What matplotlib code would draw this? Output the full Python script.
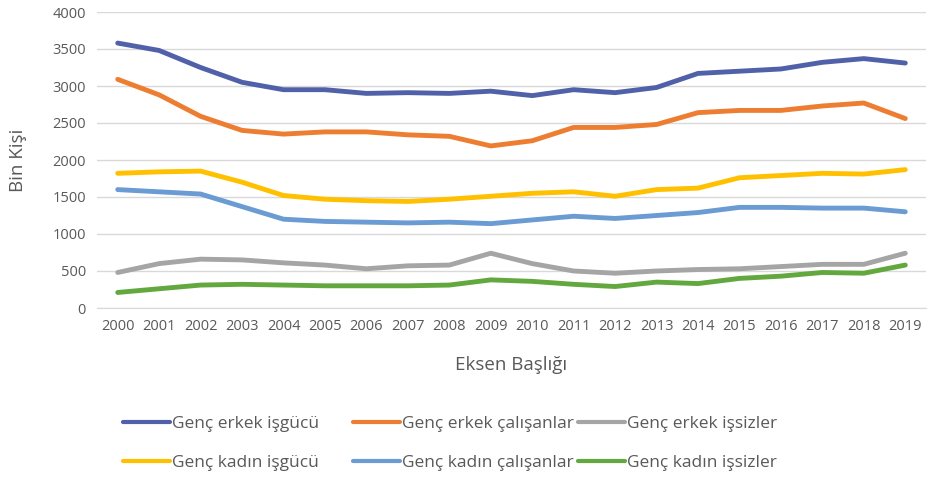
import numpy as np
import matplotlib.pyplot as plt

plt.rcParams['font.family'] = ['Open Sans', 'DejaVu Sans']

years = [str(y) for y in range(2000, 2020)]

erkek_isgucu = [3580, 3480, 3250, 3050, 2950, 2950, 2900, 2910, 2900, 2930,
                2870, 2950, 2910, 2980, 3170, 3200, 3230, 3320, 3370, 3310]
erkek_calisan = [3090, 2880, 2590, 2400, 2350, 2380, 2380, 2340, 2320, 2190,
                 2260, 2440, 2440, 2480, 2640, 2670, 2670, 2730, 2770, 2560]
erkek_issiz = [480, 600, 660, 650, 610, 580, 530, 570, 580, 740,
               600, 500, 470, 500, 520, 530, 560, 590, 590, 740]
kadin_isgucu = [1820, 1840, 1850, 1700, 1520, 1470, 1450, 1440, 1470, 1510,
                1550, 1570, 1510, 1600, 1620, 1760, 1790, 1820, 1810, 1870]
kadin_calisan = [1600, 1570, 1540, 1370, 1200, 1170, 1160, 1150, 1160, 1140,
                 1190, 1240, 1210, 1250, 1290, 1360, 1360, 1350, 1350, 1300]
kadin_issiz = [210, 260, 310, 320, 310, 300, 300, 300, 310, 380,
               360, 320, 290, 350, 330, 400, 430, 480, 470, 580]

series = [
    ("Genç erkek işgücü", erkek_isgucu, "#5061AA"),
    ("Genç erkek çalışanlar", erkek_calisan, "#ED7D31"),
    ("Genç erkek işsizler", erkek_issiz, "#A5A5A5"),
    ("Genç kadın işgücü", kadin_isgucu, "#FFC000"),
    ("Genç kadın çalışanlar", kadin_calisan, "#6A9BD3"),
    ("Genç kadın işsizler", kadin_issiz, "#62A83E"),
]

W, H = 929, 479
fig = plt.figure(figsize=(W / 100, H / 100), dpi=100)
ax = fig.add_axes([97/W, 1 - 308/H, (926 - 97)/W, (308 - 12)/H])

x = np.arange(len(years))
handles = []
for name, vals, col in series:
    ln, = ax.plot(x, vals, color=col, lw=3.5, label=name,
                  solid_capstyle='round', solid_joinstyle='round')
    handles.append(ln)

ax.set_xlim(-0.5, len(years) - 0.5)
ax.set_ylim(0, 4000)
ax.set_yticks(range(0, 4001, 500))
ax.set_xticks(x)
ax.set_xticklabels(years)
ax.grid(axis='y', color='#D9D9D9', lw=1)
ax.set_axisbelow(True)
for s in ['top', 'right', 'left']:
    ax.spines[s].set_visible(False)
ax.spines['bottom'].set_color('#D9D9D9')
ax.tick_params(length=0, labelsize=10.5, labelcolor='#595959', pad=8)

ax.set_ylabel("Bin Kişi", fontsize=13.5, color='#595959', labelpad=18)
ax.set_xlabel("Eksen Başlığı", fontsize=13.5, color='#595959', labelpad=16)

# legend entries: 2 rows x 3 columns
col_x = [123, 353, 578]
row_y = [424, 463]
for i, h in enumerate(handles):
    r, c = divmod(i, 3)
    leg = fig.legend([h], [h.get_label()], loc='center left',
                     bbox_to_anchor=(col_x[c] / W, 1 - row_y[r] / H),
                     frameon=False, fontsize=12.5, labelcolor='#595959',
                     handlelength=2.7, handletextpad=0.15, borderpad=0,
                     borderaxespad=0)
    leg.get_lines()[0].set_linewidth(3)

fig.savefig("out.png", dpi=100)
